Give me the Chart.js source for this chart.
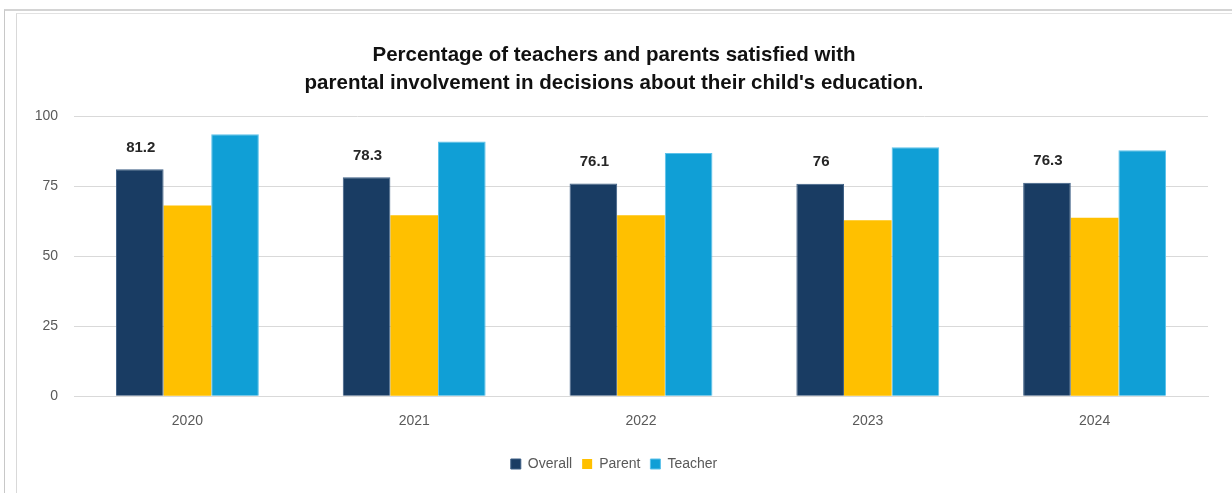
<!DOCTYPE html>
<html>
<head>
<meta charset="utf-8">
<script src="https://cdn.jsdelivr.net/npm/chart.js@4/dist/chart.umd.min.js"></script>
<style>
  body { margin: 0; background: #fff; }
  #wrap { position: relative; width: 1232px; height: 493px; overflow: hidden; }
  #frame1 { position: absolute; left: 4px; top: 9px; width: 1240px; height: 500px; border-left: 1px solid #c8c8c8; border-top: 2px solid #d4d4d4; }
  #frame2 { position: absolute; left: 16px; top: 13px; width: 1240px; height: 500px; border-left: 1px solid #d9d9d9; border-top: 1px solid #e2e2e2; }
  canvas { position: absolute; left: 0; top: 0; }
</style>
</head>
<body>
<div id="wrap">
  <div id="frame1"></div>
  <div id="frame2"></div>
  <canvas id="myChart" width="1232" height="493"></canvas>
</div>
<script>
  const years = ["2020", "2021", "2022", "2023", "2024"];
  const overall = [81.2, 78.3, 76.1, 76, 76.3];
  const parent = [68.2, 64.7, 64.7, 62.9, 63.8];
  const teacher = [93.7, 91.1, 87.0, 89.0, 88.0];
  const yTicks = [0, 25, 50, 75, 100];

  // value labels above the Overall bars only
  const overallLabels = {
    id: 'overallLabels',
    afterDatasetsDraw(chart) {
      const ctx = chart.ctx;
      const meta = chart.getDatasetMeta(0);
      ctx.save();
      ctx.font = 'bold 15px "Liberation Sans", Arial, sans-serif';
      ctx.fillStyle = '#262626';
      ctx.textAlign = 'center';
      ctx.textBaseline = 'bottom';
      meta.data.forEach((bar, i) => {
        ctx.fillText(String(overall[i]), bar.x + 1, bar.y - 14);
      });
      ctx.restore();
    }
  };

  let ctx = document.getElementById("myChart").getContext('2d');
  let myChart = new Chart(ctx, {
    type: 'bar',
    data: {
      labels: years,
      datasets: [
        { label: 'Overall', data: overall, backgroundColor: '#193c63', borderColor: '#3d5f85', borderWidth: 1 },
        { label: 'Parent', data: parent, backgroundColor: '#ffc000', borderWidth: 0 },
        { label: 'Teacher', data: teacher, backgroundColor: '#109fd6', borderColor: '#5cc2ea', borderWidth: 1 }
      ]
    },
    options: {
      responsive: false,
      animation: false,
      layout: { padding: { left: 20, right: 24, top: 0, bottom: 12 } },
      datasets: { bar: { categoryPercentage: 0.63, barPercentage: 1.0 } },
      plugins: {
        title: {
          display: true,
          text: ['Percentage of teachers and parents satisfied with', "parental involvement in decisions about their child's education."],
          color: '#111',
          font: { family: '"Liberation Sans", sans-serif', size: 20.5, weight: 'bold', lineHeight: 1.38 },
          padding: { top: 41, bottom: 19 }
        },
        legend: {
          display: true,
          position: 'bottom',
          labels: {
            color: '#595959',
            font: { family: '"Liberation Sans", Arial, sans-serif', size: 14 },
            boxWidth: 10,
            boxHeight: 10,
            padding: 10
          }
        },
        tooltip: { enabled: false }
      },
      scales: {
        x: {
          grid: { display: false, drawTicks: false },
          border: { display: true, color: '#d9d9d9' },
          ticks: { color: '#595959', font: { family: '"Liberation Sans", Arial, sans-serif', size: 14 }, padding: 17 }
        },
        y: {
          min: 0,
          max: 100,
          afterBuildTicks: s => { s.ticks = yTicks.map(v => ({ value: v })); },
          afterFit: s => { s.width = 54; },
          grid: { color: '#d9d9d9', drawTicks: false },
          border: { display: false },
          ticks: { color: '#595959', font: { family: '"Liberation Sans", Arial, sans-serif', size: 14 }, padding: 16 }
        }
      }
    },
    plugins: [overallLabels]
  });
</script>
</body>
</html>
